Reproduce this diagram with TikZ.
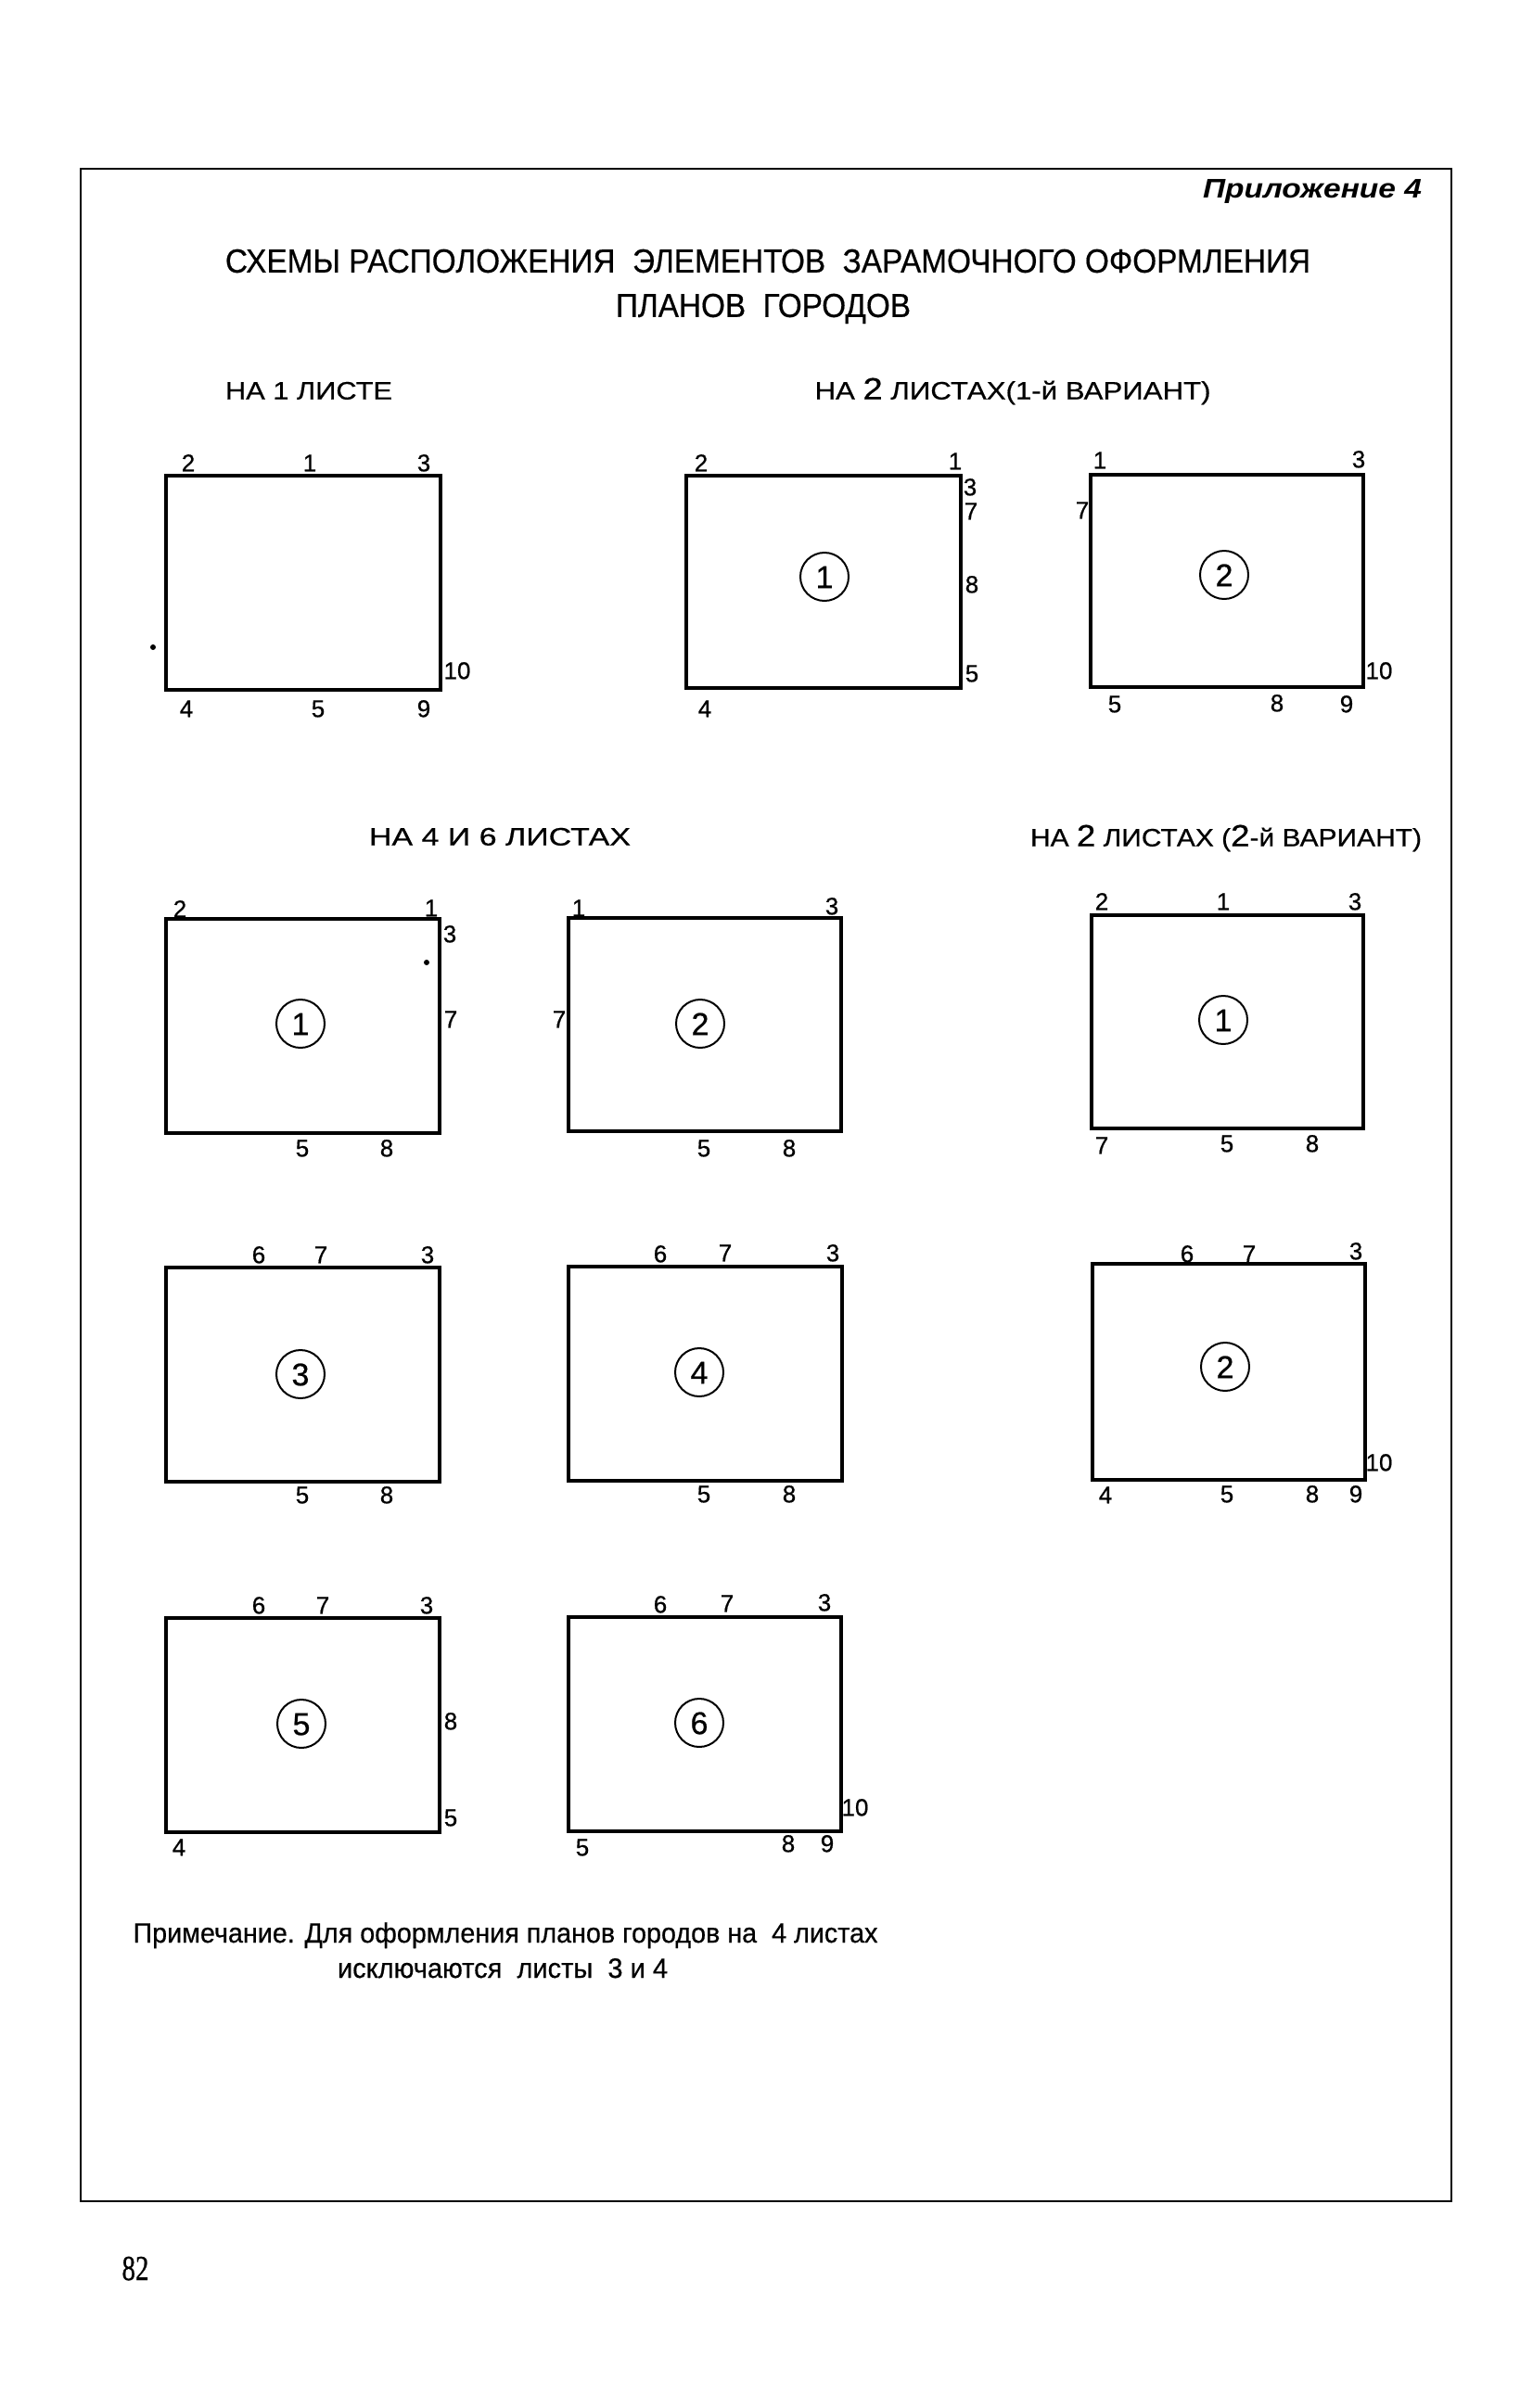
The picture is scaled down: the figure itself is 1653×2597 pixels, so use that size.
\documentclass[tikz,border=0pt]{standalone}
\usepackage{fontspec}
\usepackage{graphicx}
\setmainfont{Liberation Sans}
\newfontfamily\lblfont[FakeBold=0.6]{Liberation Sans}
\newfontfamily\notefont[FakeBold=0.5]{Liberation Sans}
\newfontfamily\pagenumfont[FakeBold=0.8]{Liberation Serif}
\newcommand{\fitw}[2]{\resizebox{#1}{\height}{#2}}
\newcommand{\bigd}[1]{{\fontsize{16.5}{17}\selectfont #1}}
\begin{document}
\begin{tikzpicture}[x=0.5pt,y=-0.5pt,
  frame/.style={draw, line width=1.3pt},
  sheet/.style={draw, line width=1.7pt, line join=miter},
  num/.style={inner sep=0pt, font=\lblfont\fontsize{13}{13}\selectfont, text height=9.3pt, text depth=0pt},
  circnum/.style={draw, circle, line width=1pt, minimum size=26pt, inner sep=0pt,
    font=\lblfont\fontsize{17}{17}\selectfont, text height=12.2pt, text depth=0pt},
  head/.style={inner sep=0pt, font=\notefont\fontsize{13.5}{14}\selectfont, text height=9.7pt, text depth=0pt},
  title/.style={inner sep=0pt, font=\notefont\fontsize{18}{19}\selectfont, text height=12.9pt, text depth=0pt},
  note/.style={inner sep=0pt, font=\notefont\fontsize{15}{16}\selectfont, anchor=base},
  speck/.style={fill, circle, inner sep=0pt, minimum size=3pt}
]
\useasboundingbox (0,0) rectangle (1653,2597);

% outer frame
\draw[frame] (87,182) rectangle (1565,2374);

% header
\node[inner sep=0pt, font=\fontsize{14.5}{15}\selectfont\bfseries\itshape, text height=10.4pt, text depth=0pt] (app) at (1415,203) {\fitw{118pt}{Приложение 4}};
\node[title] (t1) at (828,281) {\fitw{585pt}{СХЕМЫ РАСПОЛОЖЕНИЯ \ ЭЛЕМЕНТОВ \ ЗАРАМОЧНОГО ОФОРМЛЕНИЯ}};
\node[title] (t2) at (823,329) {\fitw{159pt}{ПЛАНОВ \ ГОРОДОВ}};

% section headings
\node[head] (h1) at (333,421) {\fitw{90pt}{НА 1 ЛИСТЕ}};
\node[head] (h2) at (1092,421) {\fitw{213.5pt}{НА \bigd{2} ЛИСТАХ(1-й ВАРИАНТ)}};
\node[head] (h3) at (539,902) {\fitw{141pt}{НА 4 И 6 ЛИСТАХ}};
\node[head] (h4) at (1322,903) {\fitw{211pt}{НА \bigd{2} ЛИСТАХ (\bigd{2}-й ВАРИАНТ)}};

% ---- 1 sheet
\draw[sheet] (179,513) rectangle (475,744);
\node[num] (a2) at (203,499) {2};
\node[num] (a1) at (334,499) {1};
\node[num] (a3) at (457,499) {3};
\node[num] (a10) at (493,723) {10};
\node[num] (a4) at (201,764) {4};
\node[num] (a5) at (343,764) {5};
\node[num] (a9) at (457,764) {9};
\node[speck] (as) at (165,698) {};

% ---- 2 sheets, variant 1, sheet 1
\draw[sheet] (740,513) rectangle (1036,742);
\node[circnum] (b1c) at (889,622) {1};
\node[num] (b12) at (756,499) {2};
\node[num] (b11) at (1030,497) {1};
\node[num] (b13) at (1046,525) {3};
\node[num] (b17) at (1047,551) {7};
\node[num] (b18) at (1048,630) {8};
\node[num] (b15) at (1048,726) {5};
\node[num] (b14) at (760,764) {4};

% ---- 2 sheets, variant 1, sheet 2
\draw[sheet] (1176,512) rectangle (1470,741);
\node[circnum] (b2c) at (1320,620) {2};
\node[num] (b21) at (1186,496) {1};
\node[num] (b23) at (1465,495) {3};
\node[num] (b27) at (1167,550) {7};
\node[num] (b210) at (1487,723) {10};
\node[num] (b25) at (1202,759) {5};
\node[num] (b28) at (1377,758) {8};
\node[num] (b29) at (1452,759) {9};

% ---- 4 and 6 sheets: sheet 1
\draw[sheet] (179,991) rectangle (474,1222);
\node[circnum] (c1c) at (324,1104) {1};
\node[num] (c12) at (194,980) {2};
\node[num] (c11) at (465,979) {1};
\node[num] (c13) at (485,1007) {3};
\node[num] (c17) at (486,1099) {7};
\node[num] (c15) at (326,1238) {5};
\node[num] (c18) at (417,1238) {8};
\node[speck] (cs) at (460,1038) {};

% sheet 2
\draw[sheet] (613,990) rectangle (907,1220);
\node[circnum] (c2c) at (755,1104) {2};
\node[num] (c21) at (624,979) {1};
\node[num] (c23) at (897,977) {3};
\node[num] (c27) at (603,1099) {7};
\node[num] (c25) at (759,1238) {5};
\node[num] (c28) at (851,1238) {8};

% sheet 3
\draw[sheet] (179,1367) rectangle (474,1598);
\node[circnum] (c3c) at (324,1482) {3};
\node[num] (c36) at (279,1353) {6};
\node[num] (c37) at (346,1353) {7};
\node[num] (c33) at (461,1353) {3};
\node[num] (c35) at (326,1612) {5};
\node[num] (c38) at (417,1612) {8};

% sheet 4
\draw[sheet] (613,1366) rectangle (908,1597);
\node[circnum] (c4c) at (754,1480) {4};
\node[num] (c46) at (712,1352) {6};
\node[num] (c47) at (782,1351) {7};
\node[num] (c43) at (898,1351) {3};
\node[num] (c45) at (759,1611) {5};
\node[num] (c48) at (851,1611) {8};

% sheet 5
\draw[sheet] (179,1745) rectangle (474,1976);
\node[circnum] (c5c) at (325,1859) {5};
\node[num] (c56) at (279,1731) {6};
\node[num] (c57) at (348,1731) {7};
\node[num] (c53) at (460,1731) {3};
\node[num] (c58) at (486,1856) {8};
\node[num] (c55) at (486,1960) {5};
\node[num] (c54) at (193,1992) {4};

% sheet 6
\draw[sheet] (613,1744) rectangle (907,1975);
\node[circnum] (c6c) at (754,1858) {6};
\node[num] (c66) at (712,1730) {6};
\node[num] (c67) at (784,1729) {7};
\node[num] (c63) at (889,1728) {3};
\node[num] (c610) at (922,1949) {10};
\node[num] (c65) at (628,1992) {5};
\node[num] (c68) at (850,1988) {8};
\node[num] (c69) at (892,1988) {9};

% ---- 2 sheets, variant 2, sheet 1
\draw[sheet] (1177,987) rectangle (1470,1217);
\node[circnum] (d1c) at (1319,1100) {1};
\node[num] (d12) at (1188,972) {2};
\node[num] (d11) at (1319,972) {1};
\node[num] (d13) at (1461,972) {3};
\node[num] (d17) at (1188,1235) {7};
\node[num] (d15) at (1323,1233) {5};
\node[num] (d18) at (1415,1233) {8};

% sheet 2
\draw[sheet] (1178,1363) rectangle (1472,1596);
\node[circnum] (d2c) at (1321,1474) {2};
\node[num] (d26) at (1280,1352) {6};
\node[num] (d27) at (1347,1352) {7};
\node[num] (d23) at (1462,1349) {3};
\node[num] (d210) at (1487,1577) {10};
\node[num] (d24) at (1192,1612) {4};
\node[num] (d25) at (1323,1611) {5};
\node[num] (d28) at (1415,1611) {8};
\node[num] (d29) at (1462,1611) {9};

% note
\node[note] (n1) at (545,2095) {\fitw{401.5pt}{Примечание. Для оформления планов городов на \ 4 листах}};
\node[note] (n2) at (542,2133) {\fitw{178pt}{исключаются \ листы \ 3 и 4}};

% page number
\node[inner sep=0pt, font=\pagenumfont\fontsize{19}{20}\selectfont, text height=13pt, text depth=0pt] (pg) at (146,2446) {\fitw{14.5pt}{82}};
\end{tikzpicture}
\end{document}
